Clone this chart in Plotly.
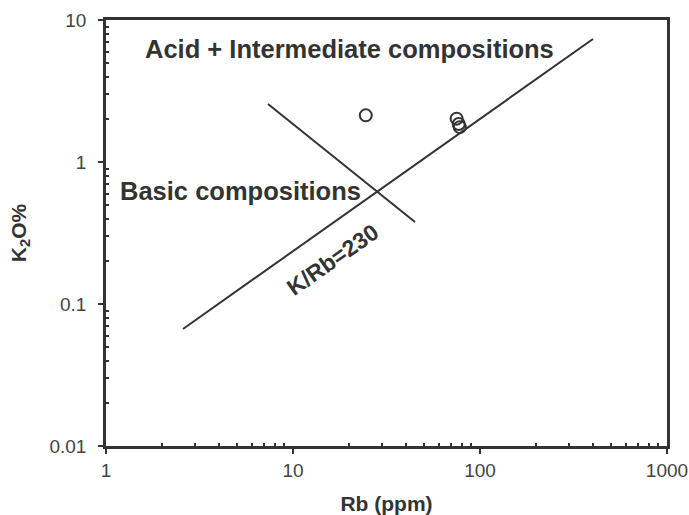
import plotly.graph_objects as go

# Sample data (Rb ppm, K2O %)
rb_samples = [24.5, 75, 77, 78]
k2o_samples = [2.13, 2.02, 1.85, 1.76]

# K/Rb = 230 reference line endpoints
krb_line_x = [2.58, 402]
krb_line_y = [0.0667, 7.35]

# Divider between basic and acid/intermediate fields
div_line_x = [7.35, 44.9]
div_line_y = [2.56, 0.378]

x_tick_vals = [1, 10, 100, 1000]
x_tick_text = ["1", "10", "100", "1000"]
y_tick_vals = [0.01, 0.1, 1, 10]
y_tick_text = ["0.01", "0.1", "1", "10"]

ink = "#333333"
fnt = "Liberation Sans, Arial, sans-serif"

x_minor = [m * 10 ** d for d in range(0, 3) for m in range(2, 10)]
y_minor = [m * 10 ** d for d in range(-2, 1) for m in range(2, 10)]

fig = go.Figure()
fig.add_trace(go.Scatter(x=krb_line_x, y=krb_line_y, mode="lines",
                         line=dict(color=ink, width=2), showlegend=False, hoverinfo="skip"))
fig.add_trace(go.Scatter(x=div_line_x, y=div_line_y, mode="lines",
                         line=dict(color=ink, width=2), showlegend=False, hoverinfo="skip"))
fig.add_trace(go.Scatter(x=rb_samples, y=k2o_samples, mode="markers",
                         marker=dict(symbol="circle-open", size=12, color=ink,
                                     line=dict(color=ink, width=2)),
                         showlegend=False))

axis_common = dict(
    type="log", showgrid=False, zeroline=False, automargin=False,
    showline=True, linecolor=ink, linewidth=2.5, mirror=True,
    ticks="outside", ticklen=5, tickwidth=2, tickcolor=ink, tickmode="array",
    tickfont=dict(family=fnt, size=19, color="#444444"),
)

fig.update_xaxes(
    **axis_common, range=[0, 3], tickvals=x_tick_vals, ticktext=x_tick_text,
    minor=dict(tickmode="array", tickvals=x_minor, ticks="inside", ticklen=3,
               tickwidth=1.5, tickcolor=ink, showgrid=False),
    title=dict(text="<b>Rb (ppm)</b>", font=dict(family=fnt, size=21, color=ink), standoff=18),
)
fig.update_yaxes(
    **axis_common, range=[-2, 1], tickvals=y_tick_vals, ticktext=y_tick_text,
    ticklabelstandoff=8,
    minor=dict(tickmode="array", tickvals=y_minor, ticks="inside", ticklen=3,
               tickwidth=1.5, tickcolor=ink, showgrid=False),
    title=dict(text="<b>K<sub>2</sub>O%</b>", font=dict(family=fnt, size=21, color=ink), standoff=18),
)

ann_font = dict(family=fnt, size=25.5, color=ink)
fig.add_annotation(x=0.198, y=0.795, xref="x", yref="y", text="<b>Acid + Intermediate compositions</b>",
                   showarrow=False, xanchor="left", yanchor="middle", font=ann_font)
fig.add_annotation(x=0.064, y=-0.205, xref="x", yref="y", text="<b>Basic compositions</b>",
                   showarrow=False, xanchor="left", yanchor="middle", font=ann_font)
fig.add_annotation(x=1.21, y=-0.69, xref="x", yref="y", text="<b>K/Rb=230</b>",
                   showarrow=False, textangle=-35, font=dict(family=fnt, size=23, color=ink))

fig.update_layout(
    width=689, height=515,
    margin=dict(l=106, r=22, t=20, b=69),
    paper_bgcolor="white", plot_bgcolor="white",
)

fig.write_html("out.html")
